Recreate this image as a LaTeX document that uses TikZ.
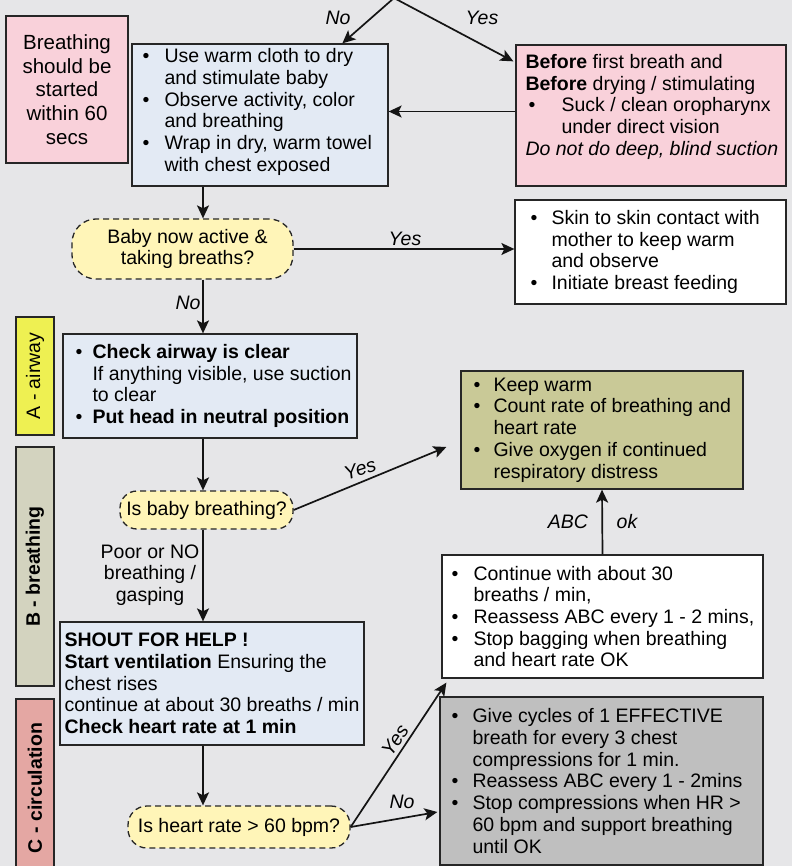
\documentclass[tikz,border=0pt]{standalone}
\usepackage{fontspec}
\setmainfont{Liberation Sans}
\usetikzlibrary{arrows.meta,calc}

\definecolor{bg}{HTML}{E6E6E8}
\definecolor{edge}{HTML}{262626}
\definecolor{lin}{HTML}{141414}
\definecolor{blueL}{HTML}{E3EAF4}
\definecolor{pinkF}{HTML}{F9D1DA}
\definecolor{decY}{HTML}{FFF5B8}
\definecolor{aY}{HTML}{EEF052}
\definecolor{bB}{HTML}{D3D3BF}
\definecolor{cC}{HTML}{E4A7A3}
\definecolor{khF}{HTML}{C9C997}
\definecolor{grF}{HTML}{BFBFBF}

\newcommand\fs{\fontsize{19.5}{21.7}\selectfont}
% bullet line with hanging indent #1, and its continuation line
\newcommand\bu[2]{\makebox[#1][l]{\textbullet}#2}
\newcommand\ind[2]{\hspace*{#1}#2}

\tikzset{
  box/.style={draw=edge, line width=1.3pt, inner sep=0pt},
  txt/.style={align=left, inner sep=0pt, anchor=west, font=\fs},
  dec/.style={draw=edge, line width=1.3pt, dash pattern=on 6pt off 4pt,
              fill=decY, rounded corners=#1, inner sep=0pt, align=center, font=\fs},
  arr/.style={draw=lin, line width=1.7pt,
              -{Stealth[length=13pt,width=12pt,inset=3pt]}},
  lab/.style={font=\fs\itshape, inner sep=1pt},
  side/.style={box, rotate=90, minimum height=38pt, font=\fs},
}

\begin{document}
\begin{tikzpicture}[x=1pt,y=-1pt]
\useasboundingbox (0,0) rectangle (792,866);
\fill[bg] (0,0) rectangle (792,866);
\clip (0,0) rectangle (792,866);

% ---- boxes ----
\node[box, fill=pinkF, minimum width=122, minimum height=147, align=center,
      font=\fontsize{20.5}{23.7}\selectfont] (pl) at (67,89.5)
  {Breathing\\should be\\started\\within 60\\secs};

\node[box, fill=blueL, minimum width=256, minimum height=142] (b1) at (260,115) {};
\node[txt] (b1t) at ([xshift=11pt,yshift=3pt]b1.west)
  {\bu{22pt}{Use warm cloth to dry}\\
   \ind{22pt}{and stimulate baby}\\
   \bu{22pt}{Observe activity, color}\\
   \ind{22pt}{and breathing}\\
   \bu{22pt}{Wrap in dry, warm towel}\\
   \ind{22pt}{with chest exposed}};

\node[box, fill=pinkF, minimum width=270, minimum height=141] (pr) at (651,115.5) {};
\node[txt] (prt) at ([xshift=10pt]pr.west)
  {\textbf{Before} first breath and\\
   \textbf{Before} drying / stimulating\\
   \hspace*{3pt}\bu{33pt}{Suck / clean oropharynx}\\
   \ind{36pt}{under direct vision}\\
   \textit{Do not do deep, blind suction}\\
   \mbox{}};

\node[dec=24pt, minimum width=221, minimum height=60] (d1) at (182.5,249)
  {\hspace*{10pt}Baby now active \&\\\hspace*{10pt}taking breaths?};

\node[box, fill=white, minimum width=271, minimum height=104] (w1) at (650.5,252) {};
\node[txt] (w1t) at ([xshift=16pt]w1.west)
  {\bu{21pt}{Skin to skin contact with}\\
   \ind{21pt}{mother to keep warm}\\
   \ind{21pt}{and observe}\\
   \bu{21pt}{Initiate breast feeding}};

\node[side, fill=aY, minimum width=118] (sa) at (35,376) {A - airway};
\node[side, fill=bB, minimum width=239] (sb) at (35,566.5) {\textbf{B - breathing}};
\node[side, fill=cC, minimum width=178] (sc) at (35,788) {\textbf{C - circulation}};

\node[box, fill=blueL, minimum width=294, minimum height=104] (ca) at (210,386) {};
\node[txt] (cat) at ([xshift=13pt]ca.west)
  {\bu{17pt}{\textbf{Check airway is clear}}\\
   \ind{17pt}{If anything visible, use suction}\\
   \ind{17pt}{to clear}\\
   \bu{17pt}{\textbf{Put head in neutral position}}};

\node[box, fill=khF, minimum width=282, minimum height=118] (kh) at (602,430) {};
\node[txt] (kht) at ([xshift=13pt]kh.west)
  {\bu{20pt}{Keep warm}\\
   \bu{20pt}{Count rate of breathing and}\\
   \ind{20pt}{heart rate}\\
   \bu{20pt}{Give oxygen if continued}\\
   \ind{20pt}{respiratory distress}};

\node[dec=17pt, minimum width=173, minimum height=38] (d2) at (206.5,510)
  {Is baby breathing?};

\node[box, fill=white, minimum width=321, minimum height=123] (w2) at (602.5,616.5) {};
\node[txt] (w2t) at ([xshift=10pt]w2.west)
  {\bu{22pt}{Continue with about 30}\\
   \ind{22pt}{breaths / min,}\\
   \bu{22pt}{Reassess ABC every 1 - 2 mins,}\\
   \bu{22pt}{Stop bagging when breathing}\\
   \ind{22pt}{and heart rate OK}};

\node[box, fill=blueL, minimum width=304, minimum height=123] (sh) at (212,683.5) {};
\node[txt] (sht) at ([xshift=5pt]sh.west)
  {\textbf{SHOUT FOR HELP !}\\
   \textbf{Start ventilation} Ensuring the\\
   chest rises\\
   continue at about 30 breaths / min\\
   \textbf{Check heart rate at 1 min}};

\node[dec=19pt, minimum width=222, minimum height=42] (d3) at (239,827)
  {Is heart rate > 60 bpm?};

\node[box, fill=grF, minimum width=323, minimum height=168] (g) at (601.5,781) {};
\node[txt] (gt) at ([xshift=12pt]g.west)
  {\bu{21pt}{Give cycles of 1 EFFECTIVE}\\
   \ind{21pt}{breath for every 3 chest}\\
   \ind{21pt}{compressions for 1 min.}\\
   \bu{21pt}{Reassess ABC every 1 - 2mins}\\
   \bu{21pt}{Stop compressions when HR >}\\
   \ind{21pt}{60 bpm and support breathing}\\
   \ind{21pt}{until OK}};

% ---- connectors ----
\coordinate (src) at (394,-2);
\coordinate (spine) at (203,0);

\draw[arr] (src) -- ($(b1.north west)+(211,0)$);
\draw[arr] (src) -- ($(pr.north west)+(-2,17)$);
\draw[arr] ([yshift=4pt]pr.west) -- ([yshift=4pt]pr.west -| b1.east);
\draw[arr] (b1.south -| spine) -- (d1.north -| spine);
\draw[arr] (d1.east) -- (d1.east -| w1.west);
\draw[arr] (d1.south -| spine) -- (ca.north -| spine);
\draw[arr] (ca.south -| spine) -- (d2.north -| spine);
\draw[arr] (d2.east) -- ($(kh.west)+(-14,17)$);
\draw[arr] (d2.south -| spine) -- (sh.north -| spine);
\draw[arr] (sh.south -| spine) -- (d3.north -| spine);
\draw[arr] (d3.east) -- ($(w2.south west)+(5,4)$);
\draw[arr] (d3.east) -- ($(g.west)+(-2,31)$);
\draw[arr] (w2.north) -- (kh.south);

% ---- connector labels ----
\node[lab] (nTop) at (338,18) {No};
\node[lab] (yTop) at (482,18) {Yes};
\node[lab] (y1) at (405,239) {Yes};
\node[lab] (n1) at (188,303) {No};
\node[lab, rotate=18] (y2) at (360,469) {Yes};
\node[align=center, font=\fs, inner sep=0pt] (poor) at (150,575)
  {Poor or NO\\breathing /\\gasping};
\node[lab] (abc) at (568,522) {ABC};
\node[lab] (ok) at (627,522) {ok};
\node[lab, rotate=56] (y3) at (395,740) {Yes};
\node[lab] (n3) at (402,802) {No};
\end{tikzpicture}
\end{document}
